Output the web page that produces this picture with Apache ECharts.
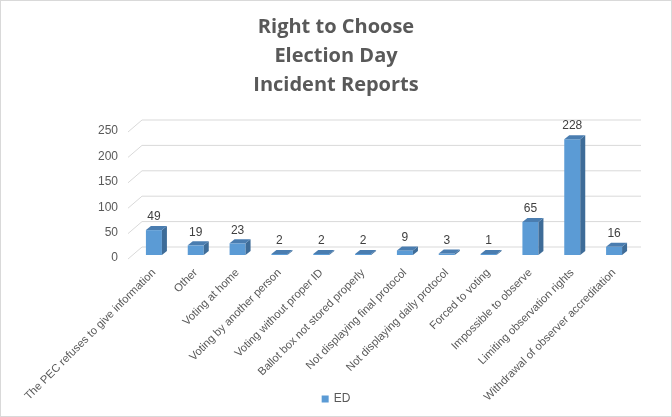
<!DOCTYPE html>
<html>
<head>
<meta charset="utf-8">
<script src="https://cdn.jsdelivr.net/npm/echarts@6/dist/echarts.min.js"></script>
<style>
html,body{margin:0;padding:0;background:#fff;}
#c{width:672px;height:417px;box-sizing:border-box;border:1px solid #d9d9d9;}
</style>
</head>
<body>
<div id="c"></div>
<script>
const categories = [
  'The PEC refuses to give information',
  'Other',
  'Voting at home',
  'Voting by another person',
  'Voting without proper ID',
  'Ballot box not stored properly',
  'Not displaying final protocol',
  'Not displaying daily protocol',
  'Forced to voting',
  'Impossible to observe',
  'Limiting observation rights',
  'Withdrawal of observer accreditation'
];
const edValues = [49, 19, 23, 2, 2, 2, 9, 3, 1, 65, 228, 16];
const yTicks = [0, 50, 100, 150, 200, 250];

const FRONT = '#5B9BD5', SIDE = '#3E6C98', TOP = '#4A7DB0';
const chart = echarts.init(document.getElementById('c'), null, {renderer: 'canvas'});
chart.setOption({
  animation: false,
  title: {
    text: 'Right to Choose\nElection Day\nIncident Reports',
    left: 'center', top: 12, padding: 0,
    textStyle: {fontFamily: 'Open Sans', fontSize: 20, fontWeight: 'bold', color: '#595959', lineHeight: 29}
  },
  legend: {
    data: ['ED'], bottom: 6, left: 'center', icon: 'rect', itemWidth: 7, itemHeight: 7, itemGap: 4,
    textStyle: {fontFamily: 'Liberation Sans', fontSize: 12, color: '#595959'}
  },
  grid: {left: 132, right: 36, top: 127, bottom: 161, containLabel: false},
  xAxis: {
    type: 'category', data: categories,
    axisLine: {show: false}, axisTick: {show: false},
    axisLabel: {interval: 0, rotate: 45, margin: 16, fontFamily: 'Liberation Sans', fontSize: 11.2, color: '#595959'}
  },
  yAxis: {
    type: 'value', min: 0, max: 250, interval: 50,
    axisLine: {show: false}, axisTick: {show: false}, splitLine: {show: false},
    axisLabel: {
      margin: 15, formatter: '{a|{value}}',
      rich: {a: {padding: [6, 0, 0, 0], fontFamily: 'Liberation Sans', fontSize: 12, color: '#595959'}}
    }
  },
  series: [
    {
      type: 'custom', name: 'grid', silent: true, z: 1,
      data: yTicks.map(t => [0, t]),
      renderItem: function (params, api) {
        const y = api.coord([0, api.value(1)])[1];
        const cs = params.coordSys;
        return {
          type: 'polyline',
          shape: {points: [[cs.x - 5, y + 4], [cs.x + 9, y - 8], [cs.x + cs.width + 6, y - 8]]},
          style: {stroke: '#d9d9d9', lineWidth: 1, fill: null}
        };
      }
    },
    {
      type: 'custom', name: 'ED', z: 2,
      itemStyle: {color: FRONT},
      data: edValues.map((v, i) => [i, v]),
      renderItem: function (params, api) {
        const x = api.value(0), v = api.value(1);
        const p0 = api.coord([x, 0]), p1 = api.coord([x, v]);
        const w = 16, dx = 5, dy = 4;
        const l = p0[0] - w / 2, r = p0[0] + w / 2;
        const yb = p0[1], yt = Math.min(p1[1], yb - 1);
        return {
          type: 'group',
          children: [
            {type: 'rect', shape: {x: l, y: yt, width: w, height: yb - yt}, style: {fill: FRONT}},
            {type: 'polygon', shape: {points: [[r, yb], [r + dx, yb - dy], [r + dx, yt - dy], [r, yt]]}, style: {fill: SIDE}},
            {type: 'polygon', shape: {points: [[l, yt], [l + dx, yt - dy], [r + dx, yt - dy], [r, yt]]}, style: {fill: TOP}},
            {type: 'text', style: {text: String(v), x: p0[0], y: yt - dy - 3, textAlign: 'center', textVerticalAlign: 'bottom',
              fill: '#404040', font: '12px "Liberation Sans"'}}
          ]
        };
      }
    }
  ]
});
</script>
</body>
</html>
